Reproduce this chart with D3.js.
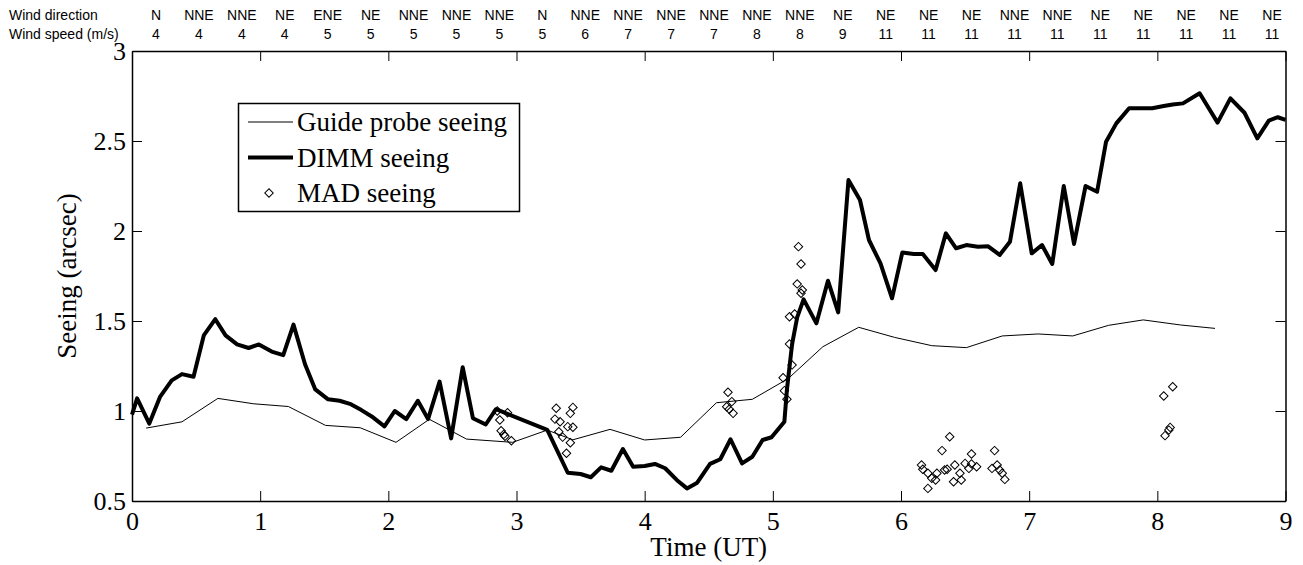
<!DOCTYPE html>
<html>
<head>
<meta charset="utf-8">
<script src="https://cdn.jsdelivr.net/npm/d3@7"></script>
<style>
  body { margin: 0; background: #fff; }
  svg { display: block; }
</style>
</head>
<body>
<div id="chart"></div>
<script>
// wind header rows
var windDir = ["N","NNE","NNE","NE","ENE","NE","NNE","NNE","NNE","N","NNE","NNE","NNE","NNE",
               "NNE","NNE","NE","NE","NE","NE","NNE","NNE","NE","NE","NE","NE","NE"];
var windSpeed = [4,4,4,4,5,5,5,5,5,5,6,7,7,7,8,8,9,11,11,11,11,11,11,11,11,11,11];

// DIMM seeing (thick line)
var dimmTime = [0.00,0.04,0.135,0.22,0.31,0.39,0.48,0.56,0.65,0.73,0.82,0.91,0.99,1.09,1.18,1.26,1.35,1.43,
  1.53,1.62,1.70,1.79,1.88,1.97,2.05,2.14,2.23,2.31,2.40,2.49,2.58,2.66,2.76,2.84,3.24,3.40,3.50,3.58,
  3.66,3.74,3.83,3.91,4.00,4.08,4.16,4.25,4.33,4.41,4.51,4.59,4.67,4.76,4.84,4.92,4.99,5.09,5.11,5.15,
  5.19,5.24,5.34,5.43,5.51,5.59,5.68,5.75,5.84,5.93,6.01,6.10,6.17,6.27,6.35,6.43,6.51,6.60,6.68,6.77,
  6.85,6.93,7.02,7.10,7.18,7.27,7.35,7.44,7.53,7.60,7.68,7.78,7.88,7.96,8.05,8.12,8.20,8.33,8.47,8.57,
  8.68,8.78,8.87,8.94,9.00];
var dimmSeeing = [0.98,1.07,0.93,1.08,1.17,1.205,1.19,1.42,1.51,1.42,1.37,1.35,1.37,1.33,1.31,1.48,1.26,1.12,
  1.065,1.057,1.04,1.005,0.965,0.915,1.0,0.955,1.057,0.955,1.163,0.848,1.243,0.96,0.925,1.01,0.895,0.657,0.65,0.632,
  0.687,0.668,0.789,0.69,0.694,0.706,0.682,0.617,0.57,0.602,0.706,0.732,0.843,0.709,0.746,0.839,0.854,0.94,1.12,1.37,
  1.52,1.62,1.487,1.724,1.548,2.283,2.172,1.95,1.82,1.626,1.88,1.872,1.872,1.783,1.987,1.904,1.922,1.913,1.915,1.867,
  1.94,2.265,1.876,1.922,1.817,2.25,1.928,2.25,2.218,2.496,2.598,2.682,2.682,2.682,2.694,2.703,2.709,2.765,2.602,2.737,
  2.657,2.515,2.613,2.632,2.617];

// guide probe seeing (thin line)
var guideTime = [0.11,0.39,0.67,0.95,1.22,1.51,1.78,2.06,2.32,2.61,2.97,3.24,3.44,3.73,4.00,4.28,4.56,4.84,
  5.12,5.39,5.67,5.95,6.24,6.51,6.79,7.07,7.34,7.62,7.89,8.18,8.45];
var guideSeeing = [0.905,0.94,1.07,1.04,1.025,0.92,0.907,0.826,0.954,0.844,0.826,0.894,0.84,0.898,0.839,0.854,
  1.046,1.065,1.18,1.357,1.465,1.409,1.363,1.352,1.417,1.428,1.417,1.476,1.506,1.478,1.459];

// MAD seeing (diamonds)
var madTime = [2.85,2.87,2.88,2.90,2.91,2.93,2.96,
  3.30,3.31,3.33,3.34,3.36,3.39,3.40,3.42,3.42,3.44,3.44,
  4.64,4.65,4.66,4.68,4.69,
  5.08,5.09,5.11,5.13,5.13,5.15,5.17,5.19,5.20,5.22,5.22,5.23,
  6.16,6.17,6.21,6.21,6.24,6.27,6.28,6.32,6.34,6.36,6.38,6.41,6.42,6.46,6.47,6.50,6.53,6.55,6.55,6.59,
  6.71,6.73,6.75,6.77,6.79,6.81,
  8.05,8.06,8.09,8.10,8.12];
var madSeeing = [1.00,0.95,0.89,0.87,0.86,0.99,0.835,
  0.955,1.015,0.885,0.94,0.855,0.765,0.913,0.987,0.824,0.91,1.02,
  1.024,1.104,1.01,1.052,0.987,
  1.185,1.113,1.065,1.524,1.372,1.256,1.539,1.706,1.913,1.817,1.654,1.672,
  0.70,0.676,0.654,0.57,0.626,0.617,0.654,0.78,0.672,0.676,0.857,0.607,0.70,0.654,0.617,0.709,0.681,0.761,0.706,0.69,
  0.681,0.78,0.70,0.672,0.654,0.62,
  1.083,0.863,0.894,0.909,1.135];

var xTicks = [0,1,2,3,4,5,6,7,8,9];
var yTicks = [0.5,1,1.5,2,2.5,3];

var serif = "'Liberation Serif','Times New Roman',serif";
var sans = "'Liberation Sans',Arial,sans-serif";

var W = 1303, H = 565;
var svg = d3.select("#chart").append("svg")
    .attr("width", W)
    .attr("height", H);

var x = d3.scaleLinear().domain([0, 9]).range([132, 1285.5]);
var y = d3.scaleLinear().domain([0.5, 3]).range([501, 51]);

// header: wind direction / speed
var col = d3.scalePoint().domain(d3.range(windDir.length)).range([156, 1272]);
svg.append("text").attr("x", 9).attr("y", 20)
    .style("font-family", sans).style("font-size", "14px").text("Wind direction");
svg.append("text").attr("x", 9).attr("y", 39)
    .style("font-family", sans).style("font-size", "14px").text("Wind speed (m/s)");
svg.selectAll(".wdir").data(windDir).enter().append("text")
    .attr("class", "wdir")
    .attr("x", function(d, i) { return col(i); })
    .attr("y", 20)
    .attr("text-anchor", "middle")
    .style("font-family", sans).style("font-size", "14px")
    .text(function(d) { return d; });
svg.selectAll(".wspd").data(windSpeed).enter().append("text")
    .attr("class", "wspd")
    .attr("x", function(d, i) { return col(i); })
    .attr("y", 39)
    .attr("text-anchor", "middle")
    .style("font-family", sans).style("font-size", "14px")
    .text(function(d) { return d; });

// axes (matlab box style, ticks pointing in)
var gx = svg.append("g").attr("transform", "translate(0," + y(0.5) + ")")
    .call(d3.axisBottom(x).tickValues(xTicks).tickSizeInner(-10).tickSizeOuter(0).tickPadding(10.5)
        .tickFormat(d3.format("d")));
var gxTop = svg.append("g").attr("transform", "translate(0," + y(3) + ")")
    .call(d3.axisTop(x).tickValues(xTicks).tickSizeInner(-10).tickSizeOuter(0).tickFormat(""));
var gy = svg.append("g").attr("transform", "translate(" + x(0) + ",0)")
    .call(d3.axisLeft(y).tickValues(yTicks).tickSizeInner(-10).tickSizeOuter(0).tickPadding(6)
        .tickFormat(function(d) { return d; }));
var gyRight = svg.append("g").attr("transform", "translate(" + x(9) + ",0)")
    .call(d3.axisRight(y).tickValues(yTicks).tickSizeInner(-10).tickSizeOuter(0).tickFormat(""));

[gx, gxTop, gy, gyRight].forEach(function(g) {
    g.select(".domain").attr("stroke", "#000").attr("stroke-width", 1.5);
    g.selectAll(".tick line").attr("stroke", "#000").attr("stroke-width", 1);
    g.selectAll(".tick text")
        .attr("fill", "#000")
        .style("font-family", serif)
        .style("font-size", "26px");
});

// guide probe
var line = d3.line()
    .x(function(d) { return x(d[0]); })
    .y(function(d) { return y(d[1]); });

var guide = guideTime.map(function(t, i) { return [t, guideSeeing[i]]; });
var dimm = dimmTime.map(function(t, i) { return [t, dimmSeeing[i]]; });
var mad = madTime.map(function(t, i) { return [t, madSeeing[i]]; });

svg.append("path").datum(guide)
    .attr("d", line)
    .attr("fill", "none")
    .attr("stroke", "#000")
    .attr("stroke-width", 1);

svg.append("path").datum(dimm)
    .attr("d", line)
    .attr("fill", "none")
    .attr("stroke", "#000")
    .attr("stroke-width", 4)
    .attr("stroke-linejoin", "round");

var diamond = d3.symbol(d3.symbolSquare, 36);
svg.selectAll(".mad").data(mad).enter().append("path")
    .attr("class", "mad")
    .attr("d", diamond)
    .attr("transform", function(d) { return "translate(" + x(d[0]) + "," + y(d[1]) + ") rotate(45)"; })
    .attr("fill", "none")
    .attr("stroke", "#000")
    .attr("stroke-width", 1);

// axis labels
svg.append("text")
    .attr("x", (x(0) + x(9)) / 2)
    .attr("y", 556)
    .attr("text-anchor", "middle")
    .style("font-family", serif).style("font-size", "27px")
    .text("Time (UT)");
svg.append("text")
    .attr("transform", "translate(76," + ((y(0.5) + y(3)) / 2) + ") rotate(-90)")
    .attr("text-anchor", "middle")
    .style("font-family", serif).style("font-size", "27px")
    .text("Seeing (arcsec)");

// legend
var legend = svg.append("g");
legend.append("rect")
    .attr("x", 238.5).attr("y", 103.5)
    .attr("width", 281).attr("height", 108)
    .attr("fill", "#fff").attr("stroke", "#000").attr("stroke-width", 1.5);
var rows = [122, 157.5, 193];
legend.append("line").attr("x1", 248).attr("x2", 293).attr("y1", rows[0]).attr("y2", rows[0])
    .attr("stroke", "#000").attr("stroke-width", 1);
legend.append("line").attr("x1", 248).attr("x2", 293).attr("y1", rows[1]).attr("y2", rows[1])
    .attr("stroke", "#000").attr("stroke-width", 4);
legend.append("path").attr("d", diamond)
    .attr("transform", "translate(269," + rows[2] + ") rotate(45)")
    .attr("fill", "none").attr("stroke", "#000").attr("stroke-width", 1);
["Guide probe seeing", "DIMM seeing", "MAD seeing"].forEach(function(s, i) {
    legend.append("text")
        .attr("x", 297).attr("y", rows[i] + 9)
        .style("font-family", serif).style("font-size", "27px")
        .text(s);
});
</script>
</body>
</html>
